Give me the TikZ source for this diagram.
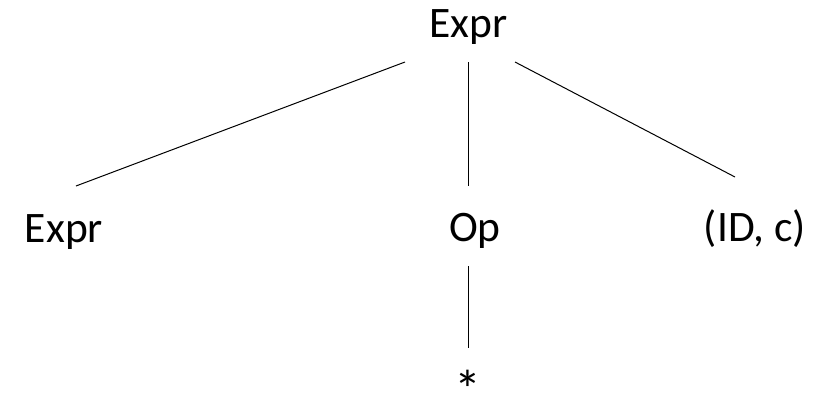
\documentclass[tikz,border=0pt]{standalone}
\usepackage{fontspec}
\setmainfont{Carlito}
\usepackage{tikz}

\begin{document}
\begin{tikzpicture}[x=1pt,y=-1pt]
\tikzstyle{sym}=[font=\fontsize{43.5}{50}\selectfont, inner sep=0pt, anchor=base]
\tikzstyle{branch}=[line width=1pt]
\useasboundingbox (0,0) rectangle (828,394);
  % symbols of the tree
  \node[sym] (root) at (468.5,37) {Expr};
  \node[sym] (expr) at (64,242) {Expr};
  \node[sym] (op) at (475,241) {Op};
  \node[sym] (id) at (755,241) {(ID, c)};
  % the star glyph sits high, so drop it onto the baseline
  \node[sym, font=\fontsize{54}{56}\selectfont] (times) at (468,389) {\raisebox{-0.37em}[0.34em][0pt]{*}};

  % ends of the branches
  \coordinate (root-l) at (405,62);
  \coordinate (root-m) at (468,62);
  \coordinate (root-r) at (515,62);
  \coordinate (expr-t) at (76,186);
  \coordinate (op-t) at (468,186);
  \coordinate (id-t) at (735,177);
  \coordinate (op-b) at (468,266);
  \coordinate (times-t) at (468,348);

  \draw[branch] (root-l) -- (expr-t);
  \draw[branch] (root-m) -- (op-t);
  \draw[branch] (root-r) -- (id-t);
  \draw[branch] (op-b) -- (times-t);
\end{tikzpicture}
\end{document}
